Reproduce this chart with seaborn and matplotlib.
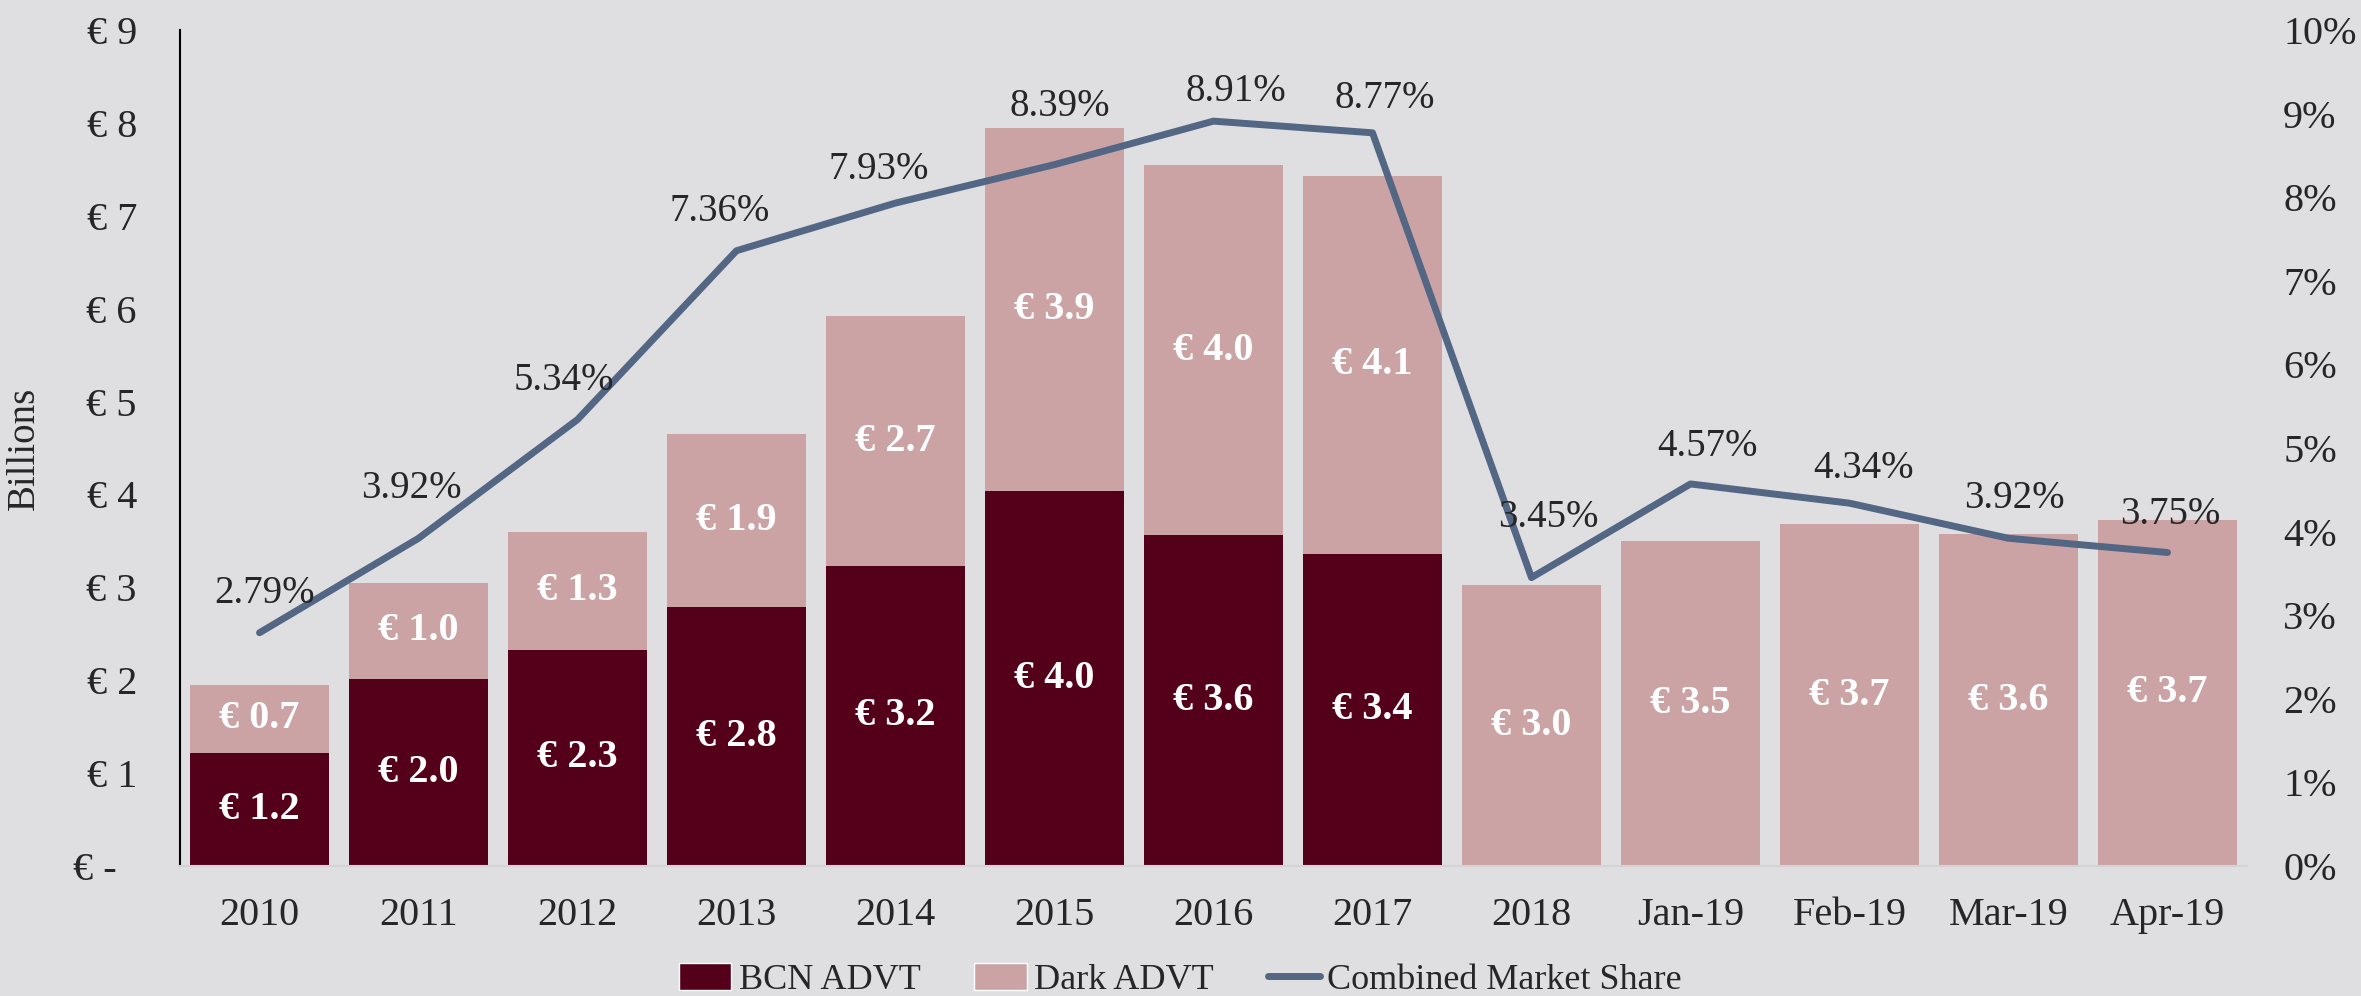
import matplotlib
matplotlib.use("Agg")
import matplotlib.pyplot as plt
import seaborn as sns
import pandas as pd
import numpy as np
from matplotlib.ticker import FuncFormatter, FixedLocator
from matplotlib.patches import Patch
from matplotlib.lines import Line2D

# ---- data ----
categories = ["2010", "2011", "2012", "2013", "2014", "2015", "2016", "2017",
              "2018", "Jan-19", "Feb-19", "Mar-19", "Apr-19"]
bcn_advt = [1.22, 2.01, 2.33, 2.79, 3.23, 4.04, 3.56, 3.36, 0, 0, 0, 0, 0]
dark_advt = [0.73, 1.04, 1.27, 1.86, 2.69, 3.90, 3.99, 4.07, 3.03, 3.50, 3.68, 3.57, 3.73]
market_share = [2.79, 3.92, 5.34, 7.36, 7.93, 8.39, 8.91, 8.77, 3.45, 4.57, 4.34, 3.92, 3.75]

# ---- style ----
BG = "#dfdfe1"
MAROON = "#55001a"
PINK = "#cca3a4"
LINE = "#536683"
sns.set_theme(style="white")
plt.rcParams["font.family"] = ["Liberation Serif", "DejaVu Serif"]

df = pd.DataFrame({"cat": categories, "bcn": bcn_advt, "dark": dark_advt,
                   "share": market_share})
df["total"] = df["bcn"] + df["dark"]
df["x"] = np.arange(len(df))

fig = plt.figure(figsize=(23.61, 9.96), dpi=100, facecolor=BG)
ax = fig.add_axes([180 / 2361, 1 - 866 / 996, (2247 - 180) / 2361, (866 - 30) / 996])
ax.set_facecolor(BG)

sns.barplot(data=df, x="cat", y="total", color=PINK, saturation=1, width=0.87,
            ax=ax, linewidth=0)
sns.barplot(data=df, x="cat", y="bcn", color=MAROON, saturation=1, width=0.87,
            ax=ax, linewidth=0)

ax.set_xlim(-0.5, len(categories) - 0.5)
ax.set_ylim(0, 9)
ax.yaxis.set_major_locator(FixedLocator(range(0, 10)))
ax.yaxis.set_major_formatter(FuncFormatter(lambda v, p: "€ -  " if v == 0 else f"€ {int(v)}"))
ax.tick_params(axis="y", length=0, pad=31, labelsize=29)
ax.tick_params(axis="x", length=0, pad=22, labelsize=29)
ax.set_xlabel("")
ax.set_ylabel("Billions", fontsize=28, labelpad=22)
for s in ["top", "right"]:
    ax.spines[s].set_visible(False)
ax.spines["left"].set_color("black")
ax.spines["left"].set_linewidth(1.5)
ax.spines["bottom"].set_color("#d4d4d6")
ax.spines["bottom"].set_linewidth(1.5)

# bar labels
for i, r in df.iterrows():
    if r["bcn"] > 0:
        ax.text(r["x"], r["bcn"] / 2, f"€ {r['bcn']:.1f}", ha="center", va="center",
                color="white", fontsize=29, fontweight="bold")
    ax.text(r["x"], r["bcn"] + r["dark"] / 2, f"€ {r['dark']:.1f}", ha="center",
            va="center", color="white", fontsize=29, fontweight="bold")

# line on secondary axis
ax2 = ax.twinx()
sns.lineplot(data=df, x="x", y="share", color=LINE, linewidth=5, ax=ax2,
             solid_capstyle="round", solid_joinstyle="round")
ax2.set_ylim(0, 10)
ax2.set_xlim(-0.5, len(categories) - 0.5)
ax2.yaxis.set_major_locator(FixedLocator(range(0, 11)))
ax2.yaxis.set_major_formatter(FuncFormatter(lambda v, p: f"{int(v)}%"))
ax2.tick_params(axis="y", length=0, pad=26, labelsize=29)
ax2.set_ylabel("")
ax2.set_xlabel("")
for s in ax2.spines.values():
    s.set_visible(False)

label_offsets = [(4, 28), (-5, 36), (-10, 28), (-12, 28), (-12, 24), (4, 42),
                 (16, 21), (9, 25), (12, 43), (12, 27), (10, 25), (4, 29), (2, 27)]
for i, r in df.iterrows():
    dx, dy = label_offsets[i]
    ax2.annotate(f"{r['share']:.2f}%", (r["x"], r["share"]), xytext=(dx, dy),
                 textcoords="offset points", ha="center", va="center", fontsize=28)

handles = [Patch(facecolor=MAROON, label="BCN ADVT"),
           Patch(facecolor=PINK, label="Dark ADVT"),
           Line2D([0], [0], color=LINE, linewidth=5, solid_capstyle="round",
                  label="Combined Market Share")]
fig.legend(handles=handles, loc="center", bbox_to_anchor=(0.5, 1 - 980 / 996),
           ncol=3, frameon=False, fontsize=26, handlelength=1.45, handleheight=0.75,
           columnspacing=1.5, handletextpad=0.2)

fig.savefig("out.png", dpi=100, facecolor=BG)
